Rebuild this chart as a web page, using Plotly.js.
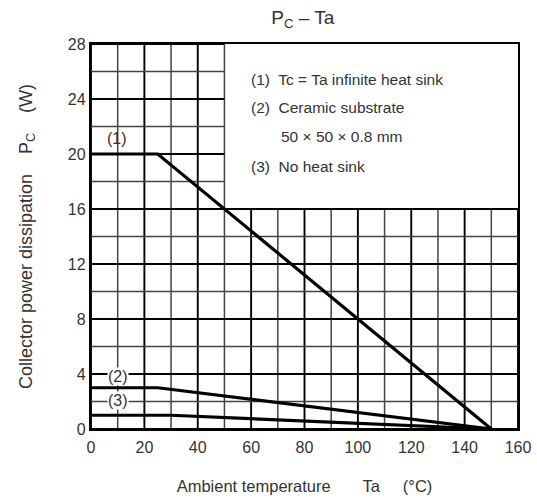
<!DOCTYPE html>
<html>
<head>
<meta charset="utf-8">
<script src="https://cdn.plot.ly/plotly-3.0.1.min.js"></script>
<style>html,body{margin:0;padding:0;background:#fff;}</style>
</head>
<body>
<div id="chart" style="width:537px;height:501px;"></div>
<script>
// Data
const ta1 = [0, 25, 150];
const pc1 = [20, 20, 0];
const ta2 = [0, 25, 150];
const pc2 = [3, 3, 0];
const ta3 = [0, 30, 150];
const pc3 = [1, 1, 0];
const xTicks = [0, 20, 40, 60, 80, 100, 120, 140, 160];
const yTicks = [0, 4, 8, 12, 16, 20, 24, 28];
const xGrid = [0, 10, 20, 30, 40, 50, 60, 70, 80, 90, 100, 110, 120, 130, 140, 150, 160];
const yGrid = [0, 2, 4, 6, 8, 10, 12, 14, 16, 18, 20, 22, 24, 26, 28];
const curveLabels = ['(1)', '(2)', '(3)'];
const legendLines = ['(1)  Tc = Ta infinite heat sink', '(2)  Ceramic substrate', '50 × 50 × 0.8 mm', '(3)  No heat sink'];

// legend box region (blank area of the grid)
const boxX = 50, boxY = 16;
const xMax = 160, yMax = 28;

const shapes = [];
xGrid.forEach(v => {
  const major = v % 20 === 0;
  const top = v <= boxX ? yMax : boxY;
  shapes.push({type:'line', xref:'x', yref:'y', x0:v, x1:v, y0:0, y1:top, layer:'below',
    line:{color: major ? '#000' : '#444', width: major ? 1.9 : 1.5}});
});
yGrid.forEach(v => {
  const major = v % 4 === 0;
  const right = v <= boxY ? xMax : boxX;
  shapes.push({type:'line', xref:'x', yref:'y', x0:0, x1:right, y0:v, y1:v, layer:'below',
    line:{color: major ? '#000' : '#444', width: major ? 1.9 : 1.5}});
});

const lineStyle = {color:'#000', width:3.2};
const traces = [
  {x: ta1, y: pc1, mode:'lines', line: lineStyle, hoverinfo:'skip'},
  {x: ta2, y: pc2, mode:'lines', line: lineStyle, hoverinfo:'skip'},
  {x: ta3, y: pc3, mode:'lines', line: lineStyle, hoverinfo:'skip'}
];

const font = {family:'"Liberation Sans", Arial, sans-serif', color:'#333'};
const annotations = [
  {x: 9.9, y: 21.1, text: curveLabels[0], showarrow:false, font:{...font, size:16}},
  {x: 10, y: 3.85, text: curveLabels[1], showarrow:false, bgcolor:'#fff', borderpad:0, font:{...font, size:16}},
  {x: 10, y: 2.1, text: curveLabels[2], showarrow:false, bgcolor:'#fff', borderpad:0, font:{...font, size:16}},
  {x: 59.3, y: 25.45, text: legendLines[0], showarrow:false, xanchor:'left', font:{...font, size:15.5}},
  {x: 59.3, y: 23.4, text: legendLines[1], showarrow:false, xanchor:'left', font:{...font, size:15.5}},
  {x: 70.3, y: 21.25, text: legendLines[2], showarrow:false, xanchor:'left', font:{...font, size:15.5}},
  {x: 59.3, y: 19.1, text: legendLines[3], showarrow:false, xanchor:'left', font:{...font, size:15.5}}
];

const layout = {
  width: 537, height: 501,
  margin: {l: 91, r: 19, t: 44, b: 72},
  paper_bgcolor: '#fff', plot_bgcolor: '#fff',
  showlegend: false,
  title: {text: 'P<sub>C</sub> – Ta', x: 0.564, xanchor:'center', y: 0.965, yanchor:'middle',
    font: {...font, size: 19}},
  xaxis: {
    range: [0, 160], tickvals: xTicks, ticktext: xTicks.map(String),
    showgrid: false, zeroline: false, showline: true, mirror: true, linecolor:'#000', linewidth: 2.2,
    ticks: '', tickfont: {...font, size: 16}, ticklabelstandoff: 3,
    title: {text: 'Ambient temperature       Ta     (°C)', font: {...font, size: 16.5}, standoff: 25}
  },
  yaxis: {
    range: [0, 28], tickvals: yTicks, ticktext: yTicks.map(String),
    showgrid: false, zeroline: false, showline: true, mirror: true, linecolor:'#000', linewidth: 2.2,
    ticks: '', tickfont: {...font, size: 16}, ticklabelstandoff: 0,
    title: {text: 'Collector power dissipation    P<sub>C</sub>    (W)', font: {...font, size: 18}, standoff: 31}
  },
  shapes: shapes,
  annotations: annotations
};

Plotly.newPlot('chart', traces, layout, {staticPlot: true, displayModeBar: false});
</script>
</body>
</html>
